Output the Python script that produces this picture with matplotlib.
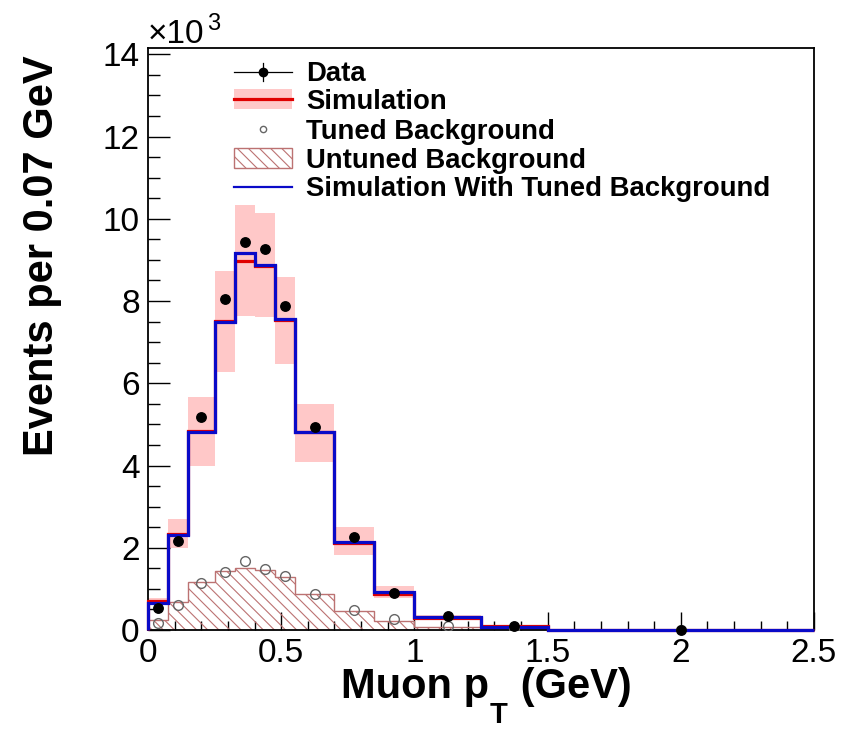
import numpy as np
import matplotlib
matplotlib.use("Agg")
import matplotlib.pyplot as plt
from matplotlib.transforms import Affine2D
from matplotlib.patches import Rectangle
from matplotlib.lines import Line2D

# Muon transverse momentum binning (GeV)
bin_edges = [0.0, 0.075, 0.15, 0.25, 0.325, 0.4, 0.475, 0.55, 0.7, 0.85, 1.0, 1.25, 1.5, 2.5]

# Event rates per 0.07 GeV, in units of 10^3
data_vals = [0.54, 2.17, 5.18, 8.06, 9.44, 9.26, 7.88, 4.93, 2.25, 0.89, 0.35, 0.10, 0.01]
sim_vals = [0.71, 2.33, 4.84, 7.52, 8.97, 8.85, 7.53, 4.82, 2.11, 0.88, 0.30, 0.09, 0.012]
sim_err_lo = [0.62, 1.99, 3.99, 6.28, 7.64, 7.60, 6.46, 4.09, 1.82, 0.79, 0.27, 0.06, 0.008]
sim_err_hi = [0.78, 2.69, 5.67, 8.73, 10.33, 10.13, 8.59, 5.49, 2.50, 1.08, 0.36, 0.12, 0.015]
tuned_bkg = [0.18, 0.62, 1.15, 1.42, 1.68, 1.48, 1.31, 0.87, 0.49, 0.26, 0.10, 0.02, 0.003]
untuned_bkg = [0.24, 0.68, 1.17, 1.44, 1.51, 1.46, 1.28, 0.87, 0.46, 0.23, 0.08, 0.03, 0.003]
sim_tuned_vals = [0.66, 2.31, 4.82, 7.50, 9.17, 8.87, 7.57, 4.82, 2.13, 0.92, 0.32, 0.08, 0.012]

x_ticks = [0, 0.5, 1, 1.5, 2, 2.5]
x_tick_labels = ["0", "0.5", "1", "1.5", "2", "2.5"]
y_ticks = [0, 2, 4, 6, 8, 10, 12, 14]
y_tick_labels = ["0", "2", "4", "6", "8", "10", "12", "14"]

legend_labels = ["Data", "Simulation", "Tuned Background",
                 "Untuned Background", "Simulation With Tuned Background"]

PINK = "#ffc8c8"
RED = "#e00000"
BLUE = "#0a0ac8"
HATCH = "#bc7272"
GREY = "#666666"

plt.rcParams["font.family"] = ["Liberation Sans", "DejaVu Sans"]
plt.rcParams["hatch.linewidth"] = 0.8

W, H = 854, 744
fig = plt.figure(figsize=(W / 100, H / 100), dpi=100)
fig.patch.set_facecolor("white")

L, R, T, B = 148, 814, 47.7, 630
ax = fig.add_axes([L / W, 1 - B / H, (R - L) / W, (B - T) / H])

edges = np.array(bin_edges)
centers = 0.5 * (edges[:-1] + edges[1:])

# systematic band on the simulation
ax.stairs(sim_err_hi, edges, baseline=sim_err_lo, fill=True,
          color=PINK, linewidth=0, zorder=1)
# untuned background, hatched
ax.stairs(untuned_bkg, edges, baseline=0, fill=True, facecolor="none",
          edgecolor=HATCH, hatch="\\\\\\", linewidth=1.0, zorder=2)
# simulation central values
ax.stairs(sim_vals, edges, baseline=0, color=RED, linewidth=2.3, zorder=3,
          clip_on=False)
ax.stairs(sim_tuned_vals, edges, baseline=0, color=BLUE, linewidth=2.3, zorder=4,
          clip_on=False)
# tuned background points
ax.plot(centers, tuned_bkg, linestyle="none", marker="o", markersize=7,
        markerfacecolor="none", markeredgecolor=GREY, markeredgewidth=1.0, zorder=5)
# data points
ax.plot(centers, data_vals, linestyle="none", marker="o", markersize=6.8,
        color="black", zorder=6, clip_on=False)

ax.set_xlim(0, 2.5)
ax.set_ylim(0, (B - T) / ((B - 54.3) / 14))

ax.set_xticks(x_ticks)
ax.set_xticklabels(x_tick_labels)
ax.set_yticks(y_ticks)
ax.set_yticklabels(y_tick_labels)
ax.set_xticks(np.arange(0, 2.51, 0.1), minor=True)
ax.set_yticks(np.arange(0, 14.01, 0.5), minor=True)
ax.tick_params(which="both", direction="in", top=False, right=False,
               labelsize=24, width=1.0, color="black")
ax.tick_params(axis="x", which="major", length=13, pad=6)
ax.tick_params(axis="x", which="minor", length=6.5)
ax.tick_params(axis="y", which="major", length=16, pad=6)
ax.tick_params(axis="y", which="minor", length=8.5)
for s in ax.spines.values():
    s.set_linewidth(1.3)

# pixel-space transform (origin top-left)
px = Affine2D().scale(1 / W, -1 / H).translate(0, 1) + fig.transFigure
renderer = fig.canvas.get_renderer()

# y axis title
fig.text(42, 55, "Events per 0.07 GeV", transform=px, rotation=90,
         ha="center", va="top", fontsize=30, fontweight="bold")

# x axis title with a dropped subscript
title_base = 698
main_kw = dict(transform=px, ha="left", va="baseline", fontsize=30, fontweight="bold")
sub_kw = dict(transform=px, ha="left", va="baseline", fontsize=21, fontweight="bold")
p1 = fig.text(0, title_base, "Muon p", **main_kw)
p2 = fig.text(0, title_base + 25, "T", **sub_kw)
p3 = fig.text(0, title_base, " (GeV)", **main_kw)
w1 = p1.get_window_extent(renderer).width
w2 = p2.get_window_extent(renderer).width
w3 = p3.get_window_extent(renderer).width
x0 = 486 - 0.5 * (w1 + w2 + w3 + 2)
p1.set_x(x0)
p2.set_x(x0 + w1 + 1)
p3.set_x(x0 + w1 + w2 + 2)

# exponent label
fig.text(148, 43, "\u00d710", transform=px, ha="left", va="baseline", fontsize=24)
fig.text(207, 30, "3", transform=px, ha="left", va="baseline", fontsize=17)

# legend
hx0, hx1 = 234, 292
hxc = 0.5 * (hx0 + hx1)
rows = [71.7, 99.3, 129.3, 158.3, 186.7]

# Data entry
fig.add_artist(Line2D([hx0, hx1], [rows[0], rows[0]], transform=px, color="black", lw=0.9))
fig.add_artist(Line2D([hxc, hxc], [rows[0] - 9, rows[0] + 9], transform=px, color="black", lw=0.9))
fig.add_artist(Line2D([hxc], [rows[0]], transform=px, marker="o", markersize=6,
                      color="black", linestyle="none"))
# Simulation entry
fig.add_artist(Rectangle((hx0, rows[1] - 10), hx1 - hx0, 20, transform=px,
                         facecolor=PINK, edgecolor="none"))
fig.add_artist(Line2D([hx0, hx1], [rows[1], rows[1]], transform=px, color=RED, lw=2.3))
# Tuned background entry
fig.add_artist(Line2D([hxc], [rows[2]], transform=px, marker="o", markersize=4.5,
                      markerfacecolor="none", markeredgecolor=GREY, markeredgewidth=1.0,
                      linestyle="none"))
# Untuned background entry
fig.add_artist(Rectangle((hx0, rows[3] - 10), hx1 - hx0, 20, transform=px,
                         facecolor="none", edgecolor=HATCH, hatch="\\\\\\", lw=1.0))
# Simulation with tuned background entry
fig.add_artist(Line2D([hx0, hx1], [rows[4], rows[4]], transform=px, color=BLUE, lw=1.6))

for yrow, lab in zip(rows, legend_labels):
    fig.text(306, yrow + 9.5, lab, transform=px, ha="left", va="baseline",
             fontsize=19.8, fontweight="bold")

fig.savefig("out.png", dpi=100, facecolor="white")
